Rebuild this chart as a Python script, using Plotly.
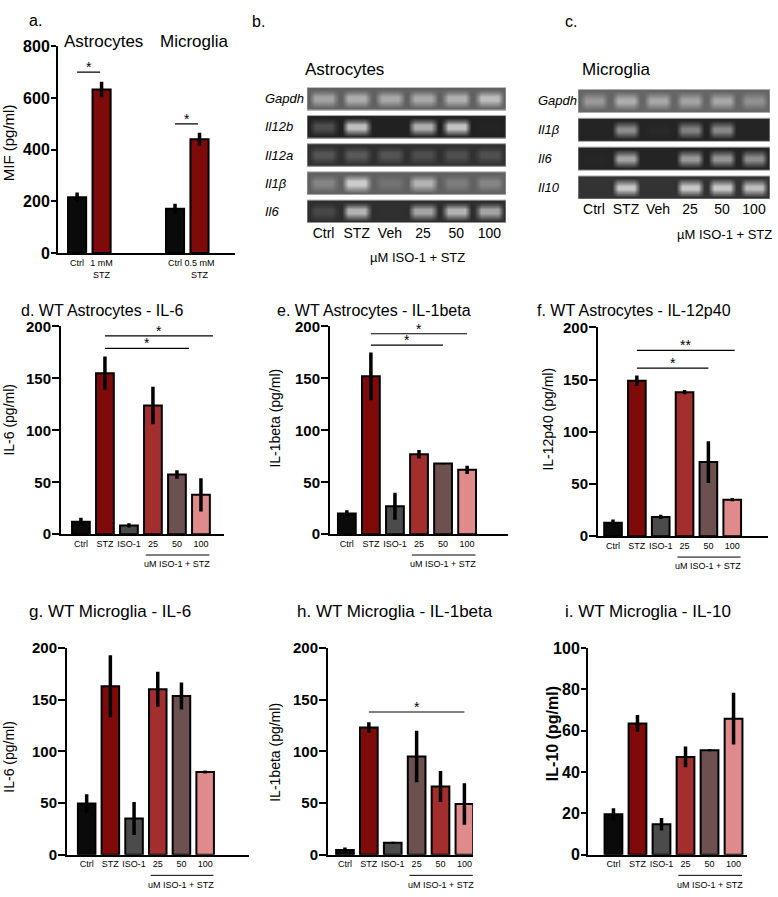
import plotly.graph_objects as go

W, H = 778, 897
FONT = "Liberation Sans, Arial, sans-serif"

# ---------------- data ----------------
BLACK, STZ, ISO, RED, BROWN, PINK = "#0a0a0a", "#7e0a0a", "#4b4b4b", "#a32e2e", "#6d5050", "#e08b8b"

# panel a: MIF
a_pos = [0, 1, 4, 5]
a_labels = ["Ctrl", "1 mM<br>STZ", "Ctrl", "0.5 mM<br>STZ"]
a_mif = [216, 633, 171, 440]
a_err = [18, 30, 20, 25]
a_colors = [BLACK, STZ, BLACK, STZ]
a_sig = [(0, 0.94, 700, "*"), (4, 4.94, 500, "*")]

# panels b/c: RT-PCR gels (band brightness 0-1)
lanes = ["Ctrl", "STZ", "Veh", "25", "50", "100"]
b_genes = ["Gapdh", "Il12b", "Il12a", "Il1β", "Il6"]
b_bg = [0.38, 0.13, 0.19, 0.38, 0.18]
b_bands = [
    [0.64, 0.68, 0.66, 0.66, 0.69, 0.74],
    [0.3, 0.74, 0.13, 0.68, 0.76, 0.14],
    [0.33, 0.35, 0.33, 0.3, 0.31, 0.31],
    [0.52, 0.8, 0.45, 0.7, 0.49, 0.52],
    [0.28, 0.7, 0.19, 0.64, 0.7, 0.64],
]
c_genes = ["Gapdh", "Il1β", "Il6", "Il10"]
c_bg = [0.4, 0.14, 0.14, 0.2]
c_bands = [
    [0.6, 0.68, 0.66, 0.64, 0.66, 0.57],
    [0.14, 0.55, 0.16, 0.5, 0.53, 0.14],
    [0.15, 0.64, 0.14, 0.6, 0.58, 0.55],
    [0.2, 0.78, 0.2, 0.78, 0.78, 0.74],
]

# panels d-i: ELISA
conds = ["Ctrl", "STZ", "ISO-1", "25", "50", "100"]
d_vals = [12, 155, 8.5, 124, 57.5, 38]
d_err = [4, 16, 2, 18, 4, 16]
e_vals = [20, 152, 27, 77, 68, 62]
e_err = [3, 23, 13, 4, 0.5, 4]
f_vals = [13, 149, 18.5, 138, 71, 35]
f_err = [3, 5, 2, 2, 20, 1.5]
g_vals = [49.5, 163, 35, 160, 153.5, 80]
g_err = [9, 30, 16, 17, 13, 1.5]
h_vals = [4.5, 123, 11.5, 95, 66, 49]
h_err = [2.5, 5, 1, 25, 15, 20]
i_vals = [19.5, 63.5, 14.7, 47.3, 50.5, 65.8]
i_err = [3, 4, 3, 5, 0.5, 12.5]

std_colors = [BLACK, STZ, ISO, RED, BROWN, PINK]
h_colors = [BLACK, STZ, ISO, BROWN, RED, PINK]

d_sig = [(1, 5.5, 191, "*"), (1, 4.5, 179, "*")]
e_sig = [(1, 5.0, 193, "*"), (1, 4.0, 182, "*")]
f_sig = [(1, 5.1, 178, "**"), (1, 4.0, 161, "*")]
g_sig = [(1, 5.07, 201, "*")]
h_sig = [(1, 5.0, 138, "*")]
i_sig = []


def px(x):
    return x / W


def py(y):
    return 1 - y / H


def dom_x(x0, x1):
    return [px(x0), px(x1)]


def dom_y(y0, y1):
    # y0 top pixel, y1 bottom pixel
    return [py(y1), py(y0)]


fig = go.Figure()
layout = {}
annotations = []
shapes = []


def ax_names(n):
    s = "" if n == 1 else str(n)
    return "x" + s, "y" + s, "xaxis" + s, "yaxis" + s


def text(x, y, t, size, **kw):
    d = dict(x=px(x), y=py(y), xref="paper", yref="paper", text=t, showarrow=False,
             xanchor="center", yanchor="middle",
             font=dict(size=size, color="black", family=FONT))
    d.update(kw)
    annotations.append(d)


def bar_panel(n, xpos, vals, errs, colors, labels, xdom, ydom, xrange, yrange, ytick,
              sig, tick_size=15, ticklen=7, under=True):
    xr, yr, xa, ya = ax_names(n)
    fig.add_trace(go.Bar(
        x=xpos, y=vals, xaxis=xr, yaxis=yr, width=0.74,
        marker=dict(color=colors, line=dict(color="black", width=2)),
        error_y=dict(type="data", array=errs, color="black", thickness=3.5, width=0),
        showlegend=False,
    ))
    layout[xa] = dict(domain=dom_x(*xdom), anchor=yr, range=xrange, showline=True,
                      linecolor="black", linewidth=2, ticks="", showgrid=False,
                      zeroline=False, tickvals=xpos, ticktext=labels,
                      tickfont=dict(size=9, family=FONT, color="black"))
    layout[ya] = dict(domain=dom_y(*ydom), anchor=xr, range=yrange, showline=True,
                      linecolor="black", linewidth=2, ticks="outside", ticklen=ticklen,
                      tickwidth=2, tickcolor="black", tickvals=ytick, showgrid=False,
                      zeroline=False, ticklabelstandoff=-2,
                      tickfont=dict(size=tick_size, family=FONT, color="black", weight="bold"))
    for x0, x1, yv, lab in sig:
        shapes.append(dict(type="line", xref=xr, yref=yr, x0=x0, x1=x1, y0=yv, y1=yv,
                           line=dict(color="black", width=1.2)))
        annotations.append(dict(x=(x0 + x1) / 2, y=yv, xref=xr, yref=yr, text=lab,
                                showarrow=False, yanchor="bottom", yshift=-5,
                                font=dict(size=14, color="black", family=FONT)))
    if under:
        shapes.append(dict(type="line", xref=xr, yref=yr + " domain", x0=2.7, x1=5.35,
                           y0=-0.1, y1=-0.1, line=dict(color="black", width=1)))
        annotations.append(dict(x=4.0, y=-0.145, xref=xr, yref=yr + " domain",
                                text="uM ISO-1 + STZ", showarrow=False, yanchor="middle",
                                font=dict(size=9, color="black", family=FONT)))


def gel_panel(n, genes, bg, bands, xdom, ydom, label_x):
    xr, yr, xa, ya = ax_names(n)
    xs = [-0.45 + 0.1 * k for k in range(60)]
    ys = [0.8 / 12 + 0.8 / 6 * k for k in range(6)]
    for r, gene in enumerate(genes):
        b0 = bg[r]
        row_in, row_mid = [], []
        for v in bands[r]:
            m = (v + b0) / 2
            row_in += [b0, m] + [v] * 6 + [m, b0]
            row_mid += [b0] + [(m + b0) / 2] + [m] * 6 + [(m + b0) / 2, b0]
        row_out = [b0] * 60
        z = [row_out, row_mid, row_in, row_in, row_mid, row_out]
        fig.add_trace(go.Heatmap(x=xs, y=[r + v for v in ys], z=z, xaxis=xr, yaxis=yr,
                                 zmin=0, zmax=1, zsmooth="best", showscale=False,
                                 hoverinfo="skip",
                                 colorscale=[[0, "black"], [1, "white"]]))
        shapes.append(dict(type="rect", xref=xr, yref=yr, x0=-0.5, x1=5.5, y0=r, y1=r + 0.8,
                           line=dict(color="#a8a8a8", width=1)))
        annotations.append(dict(x=px(label_x), y=r + 0.4, xref="paper", yref=yr,
                                text="<i>" + gene + "</i>", showarrow=False, xanchor="left",
                                yanchor="middle",
                                font=dict(size=13, color="black", family=FONT)))
    layout[xa] = dict(domain=dom_x(*xdom), anchor=yr, range=[-0.5, 5.5], showline=False,
                      ticks="", showgrid=False, zeroline=False, tickvals=list(range(6)),
                      ticktext=lanes, tickfont=dict(size=14, family=FONT, color="black"))
    layout[ya] = dict(domain=dom_y(*ydom), anchor=xr, range=[len(genes) - 0.2, 0],
                      visible=False)


# ---- panel a ----
bar_panel(1, a_pos, a_mif, a_err, a_colors, a_labels, (58, 235), (38, 249),
          [-0.78, 6.45], [0, 800], [0, 200, 400, 600, 800], a_sig, tick_size=16,
          ticklen=5, under=False)
text(27, 12, "a.", 16, xanchor="left")
text(103, 33, "Astrocytes", 17)
text(195, 33, "Microglia", 17)
text(8, 137, "MIF (pg/ml)", 15, textangle=-90)

# ---- panels b, c ----
gel_panel(2, b_genes, b_bg, b_bands, (307, 506), (80, 218), 263)
text(250, 13, "b.", 16, xanchor="left")
text(344, 62, "Astrocytes", 17)
text(417, 254, "µM ISO-1 + STZ", 13)

gel_panel(3, c_genes, c_bg, c_bands, (578, 770), (82, 194), 536)
text(563, 13, "c.", 16, xanchor="left")
text(616, 62, "Microglia", 17)
text(724, 230, "µM ISO-1 + STZ", 13)

# ---- panels d-i ----
x6 = list(range(6))
t200 = [0, 50, 100, 150, 200]
bar_panel(4, x6, d_vals, d_err, std_colors, conds, (61, 224), (324, 536),
          [-0.83, 5.96], [0, 200], t200, d_sig)
bar_panel(5, x6, e_vals, e_err, std_colors, conds, (330, 508), (324, 536),
          [-0.7, 6.7], [0, 200], t200, e_sig)
bar_panel(6, x6, f_vals, f_err, std_colors, conds, (598, 768), (325, 538),
          [-0.63, 6.5], [0, 200], t200, f_sig)
bar_panel(7, x6, g_vals, g_err, std_colors, conds, (67, 249), (652, 863),
          [-0.83, 6.85], [0, 200], t200, g_sig)
bar_panel(8, x6, h_vals, h_err, h_colors, conds, (328, 473), (652, 863),
          [-0.71, 5.36], [0, 200], t200, h_sig)
bar_panel(9, x6, i_vals, i_err, std_colors, conds, (588, 747), (652, 863),
          [-1.06, 5.56], [0, 100], [0, 20, 40, 60, 80, 100], i_sig, tick_size=16,
          ticklen=5)

text(19, 308, "d. WT Astrocytes - IL-6", 16, xanchor="left")
text(275, 308, "e. WT Astrocytes - IL-1beta", 16, xanchor="left")
text(535, 308, "f. WT Astrocytes - IL-12p40", 16, xanchor="left")
text(27, 615, "g. WT Microglia - IL-6", 17, xanchor="left")
text(295, 615, "h. WT Microglia - IL-1beta", 17, xanchor="left")
text(563, 615, "i. WT Microglia - IL-10", 17, xanchor="left")

text(9, 419, "IL-6 (pg/ml)", 14, textangle=-90)
text(275, 418, "IL-1beta (pg/ml)", 14, textangle=-90)
text(548, 419, "IL-12p40 (pg/ml)", 14, textangle=-90)
text(9, 763, "IL-6 (pg/ml)", 14, textangle=-90)
text(275, 759, "IL-1beta (pg/ml)", 14, textangle=-90)
text(552, 740, "<b>IL-10 (pg/ml)</b>", 16, textangle=-90)

fig.update_layout(
    width=W, height=H, autosize=False,
    margin=dict(l=0, r=0, t=0, b=0),
    paper_bgcolor="white", plot_bgcolor="rgba(0,0,0,0)",
    font=dict(family=FONT, color="black"),
    annotations=annotations, shapes=shapes,
    **layout
)

# pin the figure to the window corner so the page margin adds no offset
pin = (
    "document.documentElement.style.margin='0px';"
    "document.body.style.margin='0px';"
    "var gd=document.getElementById('{plot_id}');"
    "gd.style.position='absolute';gd.style.top='0px';gd.style.left='0px';"
)
fig.write_html("out.html", config={"displayModeBar": False}, post_script=pin)
